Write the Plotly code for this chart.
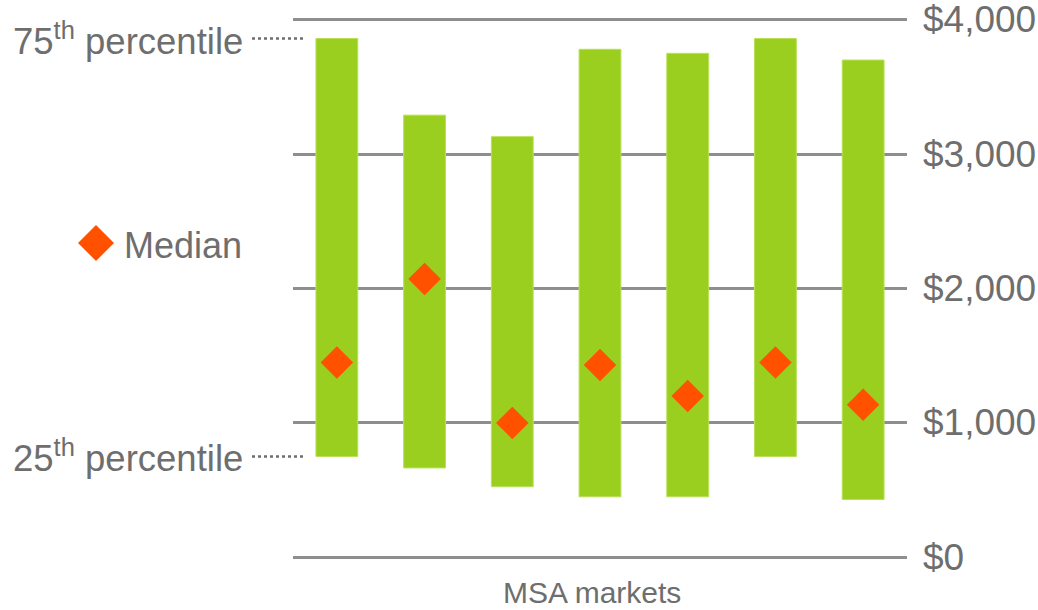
import plotly.graph_objects as go

# Monthly cost distribution by MSA market (interquartile range and median)
markets = ["Market 1", "Market 2", "Market 3", "Market 4", "Market 5", "Market 6", "Market 7"]
p25 = [750, 665, 525, 450, 450, 750, 430]
p75 = [3860, 3290, 3130, 3780, 3750, 3860, 3700]
median = [1450, 2070, 1000, 1430, 1200, 1450, 1135]
tick_vals = [0, 1000, 2000, 3000, 4000]
tick_text = ["$0", "$1,000", "$2,000", "$3,000", "$4,000"]

GREEN = "#9bcf1f"
ORANGE = "#ff5100"
TEXT = "#6e6e6e"
GRID = "#8e8e8e"
FONT = "Liberation Sans, Arial, sans-serif"

W, H = 1038, 610
ML, MR, MT, MB = 293, 131, 13, 46
PW, PH = W - ML - MR, H - MT - MB

fig = go.Figure()

fig.add_trace(go.Bar(
    x=list(range(len(markets))),
    y=[hi - lo for hi, lo in zip(p75, p25)],
    base=p25,
    width=0.477,
    marker=dict(color=GREEN, line=dict(color="#b9e05a", width=1)),
    hoverinfo="skip",
    showlegend=False,
))

fig.add_trace(go.Scatter(
    x=list(range(len(markets))),
    y=median,
    mode="markers",
    marker=dict(symbol="diamond", size=25, color=ORANGE, line=dict(width=0)),
    showlegend=False,
))

def px_x(px):
    return (px - ML) / PW

def px_y(py):
    return (H - MB - py) / PH

# Dollar labels beside each gridline, on the right
for val, label in zip(tick_vals, tick_text):
    fig.add_annotation(xref="paper", yref="y", x=px_x(921), y=val,
                       text=label, showarrow=False,
                       xanchor="left", yanchor="middle",
                       font=dict(family=FONT, size=37, color=TEXT))

# Dotted leaders from the percentile labels to the first bar's edges
for val in (p75[0], p25[0]):
    fig.add_shape(type="line", xref="paper", yref="y",
                  x0=px_x(252), x1=px_x(306), y0=val, y1=val,
                  line=dict(color=TEXT, width=2.5, dash="dot"))

for label, val in (("75<sup>th</sup> percentile", p75[0]),
                   ("25<sup>th</sup> percentile", p25[0])):
    fig.add_annotation(xref="paper", yref="y", x=px_x(245), y=val,
                       text=label, showarrow=False,
                       xanchor="right", yanchor="middle",
                       font=dict(family=FONT, size=36.5, color=TEXT))

# Median key
fig.add_shape(type="path", xref="paper", yref="paper",
              xsizemode="pixel", ysizemode="pixel",
              xanchor=px_x(96), yanchor=px_y(243),
              path="M -18,0 L 0,18 L 18,0 L 0,-18 Z",
              fillcolor=ORANGE, line=dict(width=0))
fig.add_annotation(xref="paper", yref="paper", x=px_x(122), y=px_y(245),
                   text="Median", showarrow=False,
                   xanchor="left", yanchor="middle",
                   font=dict(family=FONT, size=36, color=TEXT))

fig.add_annotation(xref="paper", yref="paper", x=px_x(592), y=px_y(610),
                   text="MSA markets", showarrow=False,
                   xanchor="center", yanchor="bottom", borderpad=0,
                   font=dict(family=FONT, size=30, color=TEXT))

fig.update_layout(
    width=W, height=H,
    margin=dict(l=ML, r=MR, t=MT, b=MB, pad=0, autoexpand=False),
    paper_bgcolor="white", plot_bgcolor="white",
    bargap=0.5,
    xaxis=dict(range=[-0.5, 6.5], showticklabels=False, showgrid=False,
               zeroline=False, showline=False, ticks="", automargin=False),
    yaxis=dict(range=[-50, 4050], side="right", tickvals=tick_vals,
               showticklabels=False, showgrid=True, gridcolor=GRID, gridwidth=2.5,
               zeroline=False, showline=False, ticks="", automargin=False),
    font=dict(family=FONT, color=TEXT),
)

fig.write_html("out.html")
